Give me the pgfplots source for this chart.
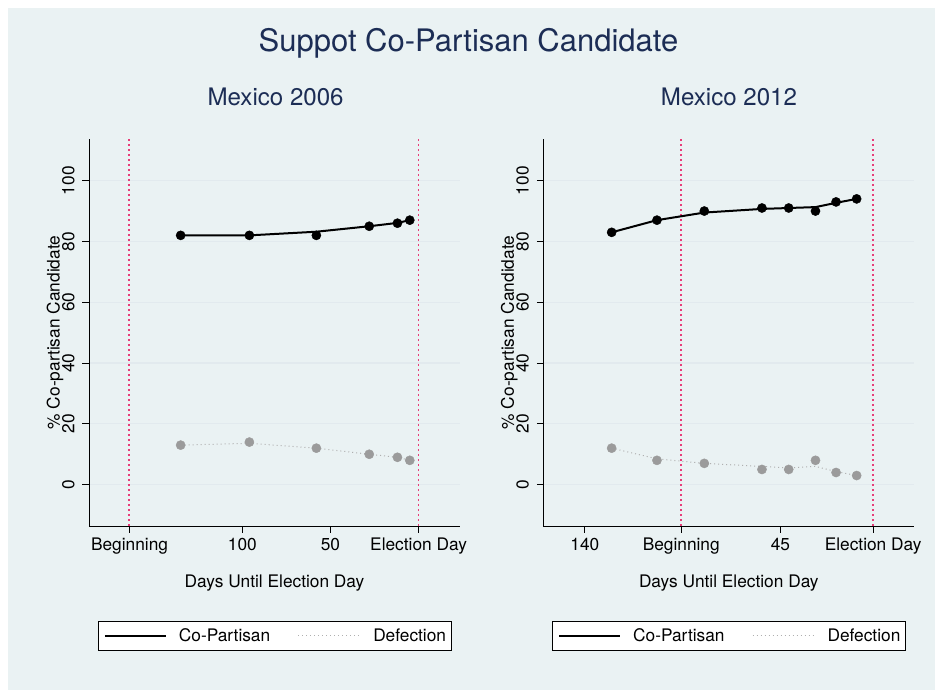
\documentclass[border=0pt]{standalone}
\usepackage{pgfplots}
\pgfplotsset{compat=1.18}
\usepackage{fontspec}
\setmainfont{TeX Gyre Heros}
\definecolor{bg}{RGB}{234,242,243}
\definecolor{gridc}{RGB}{226,234,238}
\definecolor{navy}{RGB}{28,45,85}
\definecolor{vline}{RGB}{232,60,120}
\definecolor{grayline}{RGB}{175,175,175}
\definecolor{graymark}{RGB}{155,155,155}
\newcommand{\lblfont}{\fontsize{17.3bp}{20bp}\selectfont}
\pgfplotsset{
  stata/.style={
    scale only axis, width=371bp, height=387bp, anchor=south west,
    axis lines*=left,
    axis line style={black, line width=0.8bp},
    every tick/.style={black, line width=0.8bp},
    tick align=outside, major tick length=6.5bp,
    ymin=-13.6, ymax=113.7,
    ytick={0,20,40,60,80,100},
    ymajorgrids, major grid style={gridc, line width=1.2bp},
    tick label style={font=\lblfont},
    /pgf/number format/assume math mode=true,
    yticklabel style={rotate=90, anchor=base},
    yticklabel shift=8.2bp,
    xticklabel style={anchor=base},
    xticklabel shift=18bp,
    ylabel={\% Co-partisan Candidate},
    ylabel style={at={(axis description cs:-0.0917,0.5)}, anchor=center, font=\lblfont},
    xlabel={Days Until Election Day},
    xlabel style={at={(axis description cs:0.5,-0.16)}, anchor=base, font=\lblfont},
    legend columns=2,
    legend style={at={(axis description cs:0.5,-0.2842)}, anchor=center, draw=black,
      line width=0.8bp, fill=white, font=\lblfont, column sep=0bp,
      inner xsep=5bp, inner ysep=7bp, nodes={inner xsep=0bp, inner ysep=0bp}},
  },
  legA/.style={legend image code/.code={\path[draw=none,fill=none] (0bp,0bp) -- (76bp,0bp); \draw[##1] (2bp,0bp) -- (63bp,0bp);}},
  legB/.style={legend image code/.code={\path[draw=none,fill=none] (0bp,0bp) -- (103bp,0bp); \draw[##1] (28bp,0bp) -- (89bp,0bp);}},
  vl/.style={vline, line width=1.6bp, dash pattern=on 2bp off 3bp, forget plot},
}
\begin{document}
\begin{tikzpicture}
\fill[white] (0,0) rectangle (935bp,690bp);
\fill[bg] (8bp,-20bp) rectangle (960bp,682bp);
\node[anchor=base, text=navy, font=\fontsize{31bp}{36bp}\selectfont] at (468.5bp,638bp) {Suppot Co-Partisan Candidate};
\node[anchor=base, text=navy, font=\fontsize{24.1bp}{28bp}\selectfont] at (275.6bp,584bp) {Mexico 2006};
\node[anchor=base, text=navy, font=\fontsize{24.1bp}{28bp}\selectfont] at (729bp,584bp) {Mexico 2012};

\begin{axis}[stata, at={(89bp,164bp)}, xmin=-187, xmax=23.5,
  xtick={-164,-100,-50,0}, xticklabels={Beginning,100,50,Election Day}]
\addplot[vl] coordinates {(-164.3,-13.6) (-164.3,113.7)};
\addplot[vl] coordinates {(0,-13.6) (0,113.7)};
\addplot[black, line width=2bp, no marks, legA] coordinates {(-135,82) (-96,82) (-58,83.2) (-28,85) (-12,86.1) (-5,87)};
\addlegendentry{Co-Partisan}
\addplot[grayline, line width=1bp, dash pattern=on 1bp off 3bp, no marks, legB] coordinates {(-135,13) (-96,13.6) (-58,12) (-28,10) (-12,9) (-5,8)};
\addlegendentry{Defection}
\addplot[only marks, mark=*, mark size=4.6bp, graymark, mark options={fill=graymark, draw=graymark}, forget plot] coordinates {(-135,13) (-96,14) (-58,12) (-28,10) (-12,9) (-5,8)};
\addplot[only marks, mark=*, mark size=4.6bp, black, forget plot] coordinates {(-135,82) (-96,82) (-58,82) (-28,85) (-12,86) (-5,87)};
\end{axis}

\begin{axis}[stata, at={(543.3bp,164bp)}, xmin=-160.2, xmax=20,
  xtick={-140,-93.2,-45,0}, xticklabels={140,Beginning,45,Election Day}]
\addplot[vl] coordinates {(-93.2,-13.6) (-93.2,113.7)};
\addplot[vl] coordinates {(0,-13.6) (0,113.7)};
\addplot[black, line width=2bp, no marks, legA] coordinates {(-127,83) (-105,87) (-82,89.5) (-54,90.7) (-41,91) (-28,91.3) (-18,92.7) (-8,94)};
\addlegendentry{Co-Partisan}
\addplot[grayline, line width=1bp, dash pattern=on 1bp off 3bp, no marks, legB] coordinates {(-127,12) (-105,8.5) (-82,7) (-54,6) (-41,5.5) (-28,6) (-18,4.3) (-8,3)};
\addlegendentry{Defection}
\addplot[only marks, mark=*, mark size=4.6bp, graymark, mark options={fill=graymark, draw=graymark}, forget plot] coordinates {(-127,12) (-105,8) (-82,7) (-54,5) (-41,5) (-28,8) (-18,4) (-8,3)};
\addplot[only marks, mark=*, mark size=4.6bp, black, forget plot] coordinates {(-127,83) (-105,87) (-82,90) (-54,91) (-41,91) (-28,90) (-18,93) (-8,94)};
\end{axis}
\pgfresetboundingbox
\useasboundingbox (0,0) rectangle (935bp,690bp);
\end{tikzpicture}
\end{document}
